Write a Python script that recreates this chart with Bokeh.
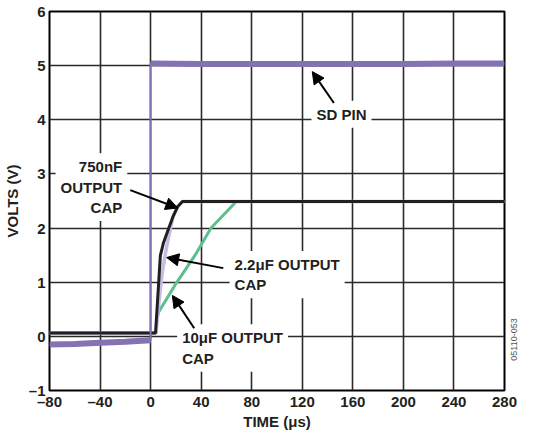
import math
from bokeh.plotting import figure
from bokeh.models import Range1d, FixedTicker, Label, Arrow, NormalHead, LinearAxis
from bokeh.embed import file_html
from bokeh.resources import INLINE

# ---- data ----
x_ticks = [-80, -40, 0, 40, 80, 120, 160, 200, 240, 280]
y_ticks = [-1, 0, 1, 2, 3, 4, 5, 6]
x_tick_labels = ["\u201380", "\u201340", "0", "40", "80", "120", "160", "200", "240", "280"]
y_tick_labels = ["\u20131", "0", "1", "2", "3", "4", "5", "6"]
x_title = "TIME (\u03bcs)"
x_title_pos = 100  # centre of the time axis
y_title = "VOLTS (V)"

# SD pin (purple)
sd_t = [-80, -60, -40, -20, 0, 0, 40, 80, 120, 160, 200, 240, 280]
sd_v = [-0.15, -0.14, -0.12, -0.10, -0.07, 5.04, 5.03, 5.03, 5.03, 5.03, 5.03, 5.04, 5.04]
sd_edge = 5  # index where the step occurs

# 750nF output cap (black)
c750_t = [-80, 3.9, 7.7, 10.2, 13.9, 17.7, 21.5, 25.2, 280]
c750_v = [0.06, 0.06, 1.49, 1.73, 1.97, 2.21, 2.40, 2.49, 2.49]

# 2.2uF output cap (lavender)
c22_t = [-80, 4.2, 6.2, 8.9, 11.4, 13.5, 17.7, 21.5, 25.2, 280]
c22_v = [0.06, 0.06, 0.55, 1.12, 1.49, 1.75, 2.21, 2.40, 2.49, 2.49]

# 10uF output cap (green)
c10_t = [-80, 4.2, 5.2, 6.4, 20.2, 35.2, 47.8, 58.0, 67.8, 280]
c10_v = [0.06, 0.06, 0.33, 0.45, 0.98, 1.50, 2.00, 2.25, 2.49, 2.49]

figure_code = "05110-053"
figure_code_y = -0.45

FONT = "Liberation Sans"
TXT = "#231F20"

p = figure(width=532, height=432, x_range=Range1d(-80, 280), y_range=Range1d(-1, 6),
           output_backend="svg", toolbar_location=None,
           min_border_left=46, min_border_right=28, min_border_top=11, min_border_bottom=40)
p.background_fill_color = "white"
p.border_fill_color = "white"
p.outline_line_color = "black"
p.outline_line_width = 2

# x axis: tick labels plus the axis title as a second text line under the centre tick
p.xaxis.ticker = FixedTicker(ticks=x_ticks + [x_title_pos])
p.xgrid.ticker = FixedTicker(ticks=x_ticks)
overrides = dict(zip(x_ticks, x_tick_labels))
overrides[x_title_pos] = "\n" + x_title
p.xaxis.major_label_overrides = overrides
p.yaxis.ticker = FixedTicker(ticks=y_ticks)
p.yaxis.major_label_overrides = dict(zip(y_ticks, y_tick_labels))
for ax in (p.xaxis, p.yaxis):
    ax.axis_line_color = None
    ax.major_tick_line_color = None
    ax.minor_tick_line_color = None
    ax.major_tick_in = 0
    ax.major_tick_out = 0
    ax.major_label_text_font = FONT
    ax.major_label_text_font_style = "bold"
    ax.major_label_text_font_size = "15px"
    ax.major_label_text_color = TXT
    ax.axis_label_text_font = FONT
    ax.axis_label_text_font_style = "bold"
    ax.axis_label_text_font_size = "15px"
    ax.axis_label_text_color = TXT
p.xaxis.major_label_standoff = 2
p.xaxis.major_label_text_line_height = 1.2
p.yaxis.axis_label = y_title
p.yaxis.major_label_standoff = 4
p.yaxis.axis_label_standoff = 5

# right-side figure code, drawn as the label of a tick-less axis
code_axis = LinearAxis(ticker=FixedTicker(ticks=[figure_code_y]),
                       major_label_overrides={figure_code_y: figure_code},
                       major_label_orientation=math.pi / 2,
                       axis_line_color=None, major_tick_line_color=None,
                       minor_tick_line_color=None, major_tick_in=0, major_tick_out=0,
                       major_label_standoff=10, major_label_text_font=FONT,
                       major_label_text_font_size="9px",
                       major_label_text_color="#555555")
p.add_layout(code_axis, "right")

p.grid.grid_line_color = "#2a2a2a"
p.grid.grid_line_width = 1.6

# traces
p.line(c10_t, c10_v, line_color="#5DBE8E", line_width=3)
p.line(c22_t, c22_v, line_color="#C6BBE2", line_width=3.5)
p.line(c750_t, c750_v, line_color="#231F20", line_width=3)
p.line(sd_t, sd_v, line_color="#8572B3", line_width=2)
p.line(sd_t[:sd_edge], sd_v[:sd_edge], line_color="#8572B3", line_width=6)
p.line(sd_t[sd_edge:], sd_v[sd_edge:], line_color="#8572B3", line_width=6)

# annotations
def lab(x, y, text, align):
    p.add_layout(Label(x=x, y=y, text=text, text_align=align, text_baseline="middle",
                       text_font=FONT, text_font_style="bold", text_font_size="15px",
                       text_color=TXT, text_line_height=1.2,
                       background_fill_color="white", padding=5))

lab(151.0, 4.10, "SD PIN", "center")
lab(-18.5, 2.755, "750nF\nOUTPUT\nCAP", "right")
lab(62.5, 1.14, "2.2\u03bcF OUTPUT\nCAP", "left")
lab(21.0, -0.216, "10\u03bcF OUTPUT\nCAP", "left")

arrows = [
    (145.0, 4.31, 127.9, 4.89),
    (-16.1, 2.70, 21.5, 2.37),
    (57.5, 1.26, 12.7, 1.456),
    (34.5, 0.149, 17.2, 0.756),
]
for xs, ys, xe, ye in arrows:
    p.add_layout(Arrow(x_start=xs, y_start=ys, x_end=xe, y_end=ye, line_width=2,
                       line_color="black",
                       end=NormalHead(size=12, fill_color="black", line_color="black")))

open("out.html", "w").write(file_html(p, INLINE))
